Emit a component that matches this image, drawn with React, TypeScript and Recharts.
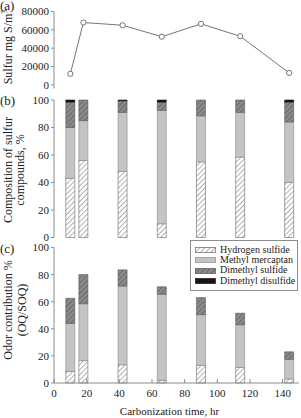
import { BarChart, Bar, LineChart, Line, XAxis, YAxis, Legend, Label } from 'recharts';

// carbonization time (hr) for each sample
const hours = [10, 18, 42, 66, 90, 114, 144];

// (a) total sulfur, mg S/m3
const sulfur = [12000, 68000, 65000, 52500, 66500, 53000, 13000];

// (b) composition of sulfur compounds, %
const compH2S = [43, 56, 48, 10, 55, 58.5, 40];
const compMM = [37, 29, 43, 82.5, 33.5, 32.5, 44];
const compDMS = [18.5, 15, 8.5, 6, 11.5, 9, 14.5];
const compDMDS = [1.5, 0, 0.5, 1.5, 0, 0, 1.5];

// (c) odor contribution, OQ/SOQ %
const odorH2S = [8.5, 16.5, 13.5, 2, 13, 11.5, 3];
const odorMM = [35.5, 42, 58, 63.5, 37.5, 31.5, 14.5];
const odorDMS = [18.5, 21.5, 12, 5.5, 12.5, 8.5, 5.5];
const odorDMDS = [0, 0, 0, 0, 0, 0, 0];

const timeTicks = [0, 20, 40, 60, 80, 100, 120, 140];
const innerTicks = [20, 40, 60, 80, 100, 120, 140];
const sulfurTicks = [0, 20000, 40000, 60000, 80000];
const pctTicks = [0, 20, 40, 60, 80, 100];

const compounds = [
  { key: 'h2s', name: 'Hydrogen sulfide', fill: 'url(#hatchWhite)', stroke: '#666' },
  { key: 'mm', name: 'Methyl mercaptan', fill: '#c4c4c4', stroke: '#8a8a8a' },
  { key: 'dms', name: 'Dimethyl sulfide', fill: 'url(#hatchDark)', stroke: '#555' },
  { key: 'dmds', name: 'Dimethyl disulfide', fill: '#151515', stroke: '#151515' },
];

const sulfurData = hours.map((h, i) => ({ hour: h, sulfur: sulfur[i] }));
const compData = hours.map((h, i) => ({
  hour: h,
  h2s: compH2S[i],
  mm: compMM[i],
  dms: compDMS[i],
  dmds: compDMDS[i],
}));
const odorData = hours.map((h, i) => ({
  hour: h,
  h2s: odorH2S[i],
  mm: odorMM[i],
  dms: odorDMS[i],
  dmds: odorDMDS[i],
}));

const FONT = '"Liberation Serif", "DejaVu Serif", serif';
const AXIS = '#8c8c8c';
const tickStyle = { fontSize: 11, fill: '#222', fontFamily: FONT };

function Patterns() {
  return (
    <svg width={0} height={0} style={{ position: 'absolute' }}>
      <defs>
        <pattern id="hatchWhite" width={3.6} height={3.6} patternUnits="userSpaceOnUse" patternTransform="rotate(45)">
          <rect width={3.6} height={3.6} fill="#fff" />
          <line x1={0} y1={0} x2={0} y2={3.6} stroke="#555" strokeWidth={0.9} />
        </pattern>
        <pattern id="hatchDark" width={3.6} height={3.6} patternUnits="userSpaceOnUse" patternTransform="rotate(45)">
          <rect width={3.6} height={3.6} fill="#8a8a8a" />
          <line x1={0} y1={0} x2={0} y2={3.6} stroke="#4a4a4a" strokeWidth={1} />
        </pattern>
      </defs>
    </svg>
  );
}

function VLabel({ cx, cy, lh = 12, children }: { cx: number; cy: number; lh?: number; children: any }) {
  return (
    <div
      style={{
        position: 'absolute',
        left: cx,
        top: cy,
        transform: 'translate(-50%, -50%) rotate(-90deg)',
        whiteSpace: 'nowrap',
        textAlign: 'center',
        fontSize: 12,
        lineHeight: `${lh}px`,
        color: '#222',
      }}
    >
      {children}
    </div>
  );
}

function PanelTag({ x, y, text }: { x: number; y: number; text: string }) {
  return (
    <div style={{ position: 'absolute', left: x, top: y, fontSize: 13, lineHeight: '13px', color: '#222' }}>{text}</div>
  );
}

const TimeTick = (props: any) => {
  const { x, y, payload } = props;
  return (
    <g>
      <line x1={x} x2={x} y1={y} y2={y - 4} stroke={AXIS} />
      <text x={x} y={y} dy={14} textAnchor="middle" {...tickStyle}>
        {payload.value}
      </text>
    </g>
  );
};

const TimeTitle = (props: any) => {
  const { viewBox } = props;
  return (
    <text
      x={viewBox.x + viewBox.width / 2 - 7}
      y={viewBox.y + viewBox.height - 3}
      textAnchor="middle"
      fontSize={11}
      fill="#222"
      fontFamily={FONT}
    >
      Carbonization time, hr
    </text>
  );
};

const LegendBox = () => (
  <div
    style={{
      border: `1px solid ${AXIS}`,
      background: '#fff',
      padding: '4px 0 4px 4px',
      width: 102,
      fontFamily: FONT,
      fontSize: 10,
      lineHeight: '10.2px',
      color: '#222',
      textAlign: 'left',
    }}
  >
    {compounds.map((c) => (
      <div key={c.key} style={{ display: 'flex', alignItems: 'center' }}>
        <svg width={22} height={6} style={{ marginRight: 3 }}>
          <rect x={0.5} y={0.5} width={20} height={5} fill={c.fill} stroke={c.stroke} strokeWidth={0.7} />
        </svg>
        <span>{c.name}</span>
      </div>
    ))}
  </div>
);

function StackBars() {
  return compounds.map((c) => (
    <Bar
      key={c.key}
      dataKey={c.key}
      name={c.name}
      stackId="s"
      fill={c.fill}
      stroke={c.stroke}
      strokeWidth={0.6}
      isAnimationActive={false}
    />
  ));
}

export default function App() {
  return (
    <div
      style={{
        position: 'absolute',
        left: 0,
        top: 0,
        width: 301,
        height: 418,
        background: '#fff',
        fontFamily: FONT,
        overflow: 'hidden',
      }}
    >
      <style>{`.recharts-wrapper text { font-family: ${FONT}; }`}</style>
      <Patterns />

      {/* (a) */}
      <div style={{ position: 'absolute', left: 0, top: 0 }}>
        <LineChart width={301} height={96} data={sulfurData} margin={{ top: 11.5, right: 2, bottom: 7.5, left: 0 }}>
          <XAxis
            dataKey="hour"
            type="number"
            domain={[0, 150]}
            ticks={innerTicks}
            tick={false}
            mirror
            height={0}
            tickSize={4}
            stroke={AXIS}
          />
          <XAxis xAxisId="top" orientation="top" type="number" domain={[0, 150]} height={0} tick={false} tickLine={false} stroke={AXIS} />
          <YAxis
            domain={[-4000, 80000]}
            ticks={sulfurTicks}
            width={54}
            tickSize={3}
            tickMargin={2}
            tick={tickStyle}
            stroke={AXIS}
            interval={0}
          />
          <YAxis yAxisId="right" orientation="right" width={0} tick={false} tickLine={false} stroke={AXIS} />
          <Line
            dataKey="sulfur"
            stroke="#777"
            strokeWidth={1}
            dot={{ r: 2.6, fill: '#fff', stroke: '#666', strokeWidth: 0.9 }}
            isAnimationActive={false}
          />
        </LineChart>
      </div>

      {/* (b) */}
      <div style={{ position: 'absolute', left: 0, top: 92 }}>
        <BarChart width={301} height={152} data={compData} margin={{ top: 8, right: 2, bottom: 6.5, left: 0 }} barSize={9}>
          <XAxis
            dataKey="hour"
            type="number"
            domain={[0, 150]}
            ticks={innerTicks}
            tick={false}
            mirror
            height={0}
            tickSize={4}
            stroke={AXIS}
          />
          <YAxis
            domain={[0, 100]}
            ticks={pctTicks}
            width={54}
            tickSize={3}
            tickMargin={2}
            tick={tickStyle}
            stroke={AXIS}
            interval={0}
          />
          {StackBars()}
        </BarChart>
      </div>

      {/* (c) */}
      <div style={{ position: 'absolute', left: 0, top: 240 }}>
        <BarChart width={301} height={178} data={odorData} margin={{ top: 7.5, right: 2, bottom: 0, left: 0 }} barSize={9}>
          <XAxis
            dataKey="hour"
            type="number"
            domain={[0, 150]}
            ticks={timeTicks}
            interval={0}
            height={35}
            tickSize={0}
            tickMargin={0}
            tick={<TimeTick />}
            stroke={AXIS}
          >
            <Label content={<TimeTitle />} />
          </XAxis>
          <YAxis
            domain={[0, 100]}
            ticks={pctTicks}
            width={54}
            tickSize={3}
            tickMargin={2}
            tick={tickStyle}
            stroke={AXIS}
            interval={0}
          />
          {StackBars()}
          <Legend
            layout="horizontal"
            verticalAlign="middle"
            align="center"
            content={<LegendBox />}
            wrapperStyle={{ position: 'absolute', left: 190, top: 0, width: 107 }}
          />
        </BarChart>
      </div>

      <PanelTag x={0} y={-1} text="(a)" />
      <PanelTag x={0} y={94} text="(b)" />
      <PanelTag x={0} y={242} text="(c)" />

      <VLabel cx={8} cy={47}>
        Sulfur mg S/m<sup style={{ fontSize: 8, lineHeight: 0 }}>3</sup>
      </VLabel>
      <VLabel cx={14} cy={170}>
        Composition of sulfur
        <br />
        compounds, %
      </VLabel>
      <VLabel cx={15} cy={310} lh={14}>
        Odor contribution %
        <br />
        (OQ/SOQ)
      </VLabel>
    </div>
  );
}
